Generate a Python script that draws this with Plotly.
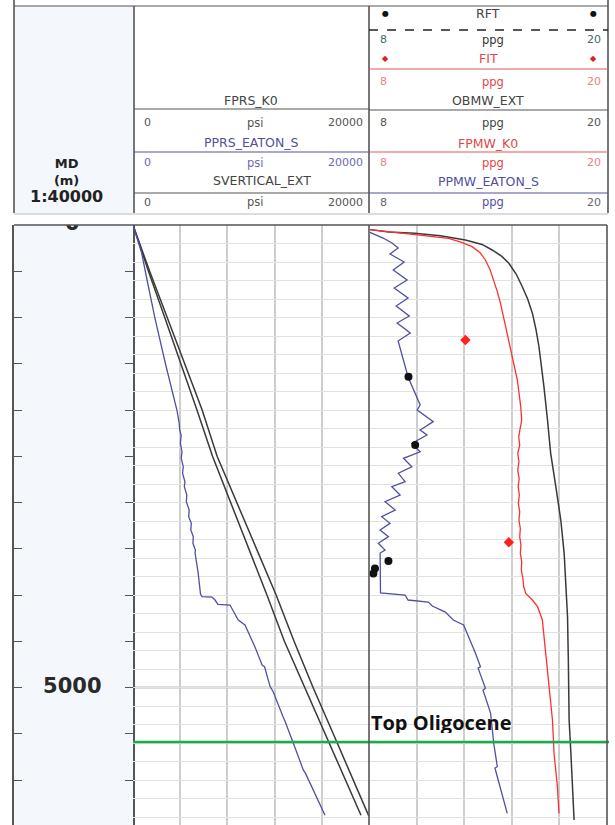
import plotly.graph_objects as go

# ---------------------------------------------------------------------------
# Well pressure data versus measured depth (m)
# ---------------------------------------------------------------------------

# Pressure track (psi)
svertical_depth = [0, 500, 1000, 1500, 2000, 2500, 3000, 3500, 4000, 4500, 5000, 5500, 6000, 6390]
svertical_psi = [0, 1410, 2900, 4380, 5860, 7130, 8800, 10460, 12130, 13650, 15260, 16970, 18690, 19990]

fprs_depth = [0, 500, 1000, 1500, 2000, 2500, 3000, 3500, 4000, 4500, 5000, 5500, 6000, 6380]
fprs_psi = [0, 1310, 2690, 4070, 5420, 6740, 8280, 9810, 11350, 12830, 14550, 16280, 18010, 19320]

pprs_depth = [0, 150, 300, 600, 1000, 1500, 2000, 2130, 2216, 2270, 2360, 2451, 2522, 2613,
              2684, 2775, 2829, 2919, 2991, 3081, 3153, 3225, 3297, 3369, 3441, 3514, 3546,
              3760, 3990, 4018, 4022, 4054, 4100, 4108, 4184, 4270, 4324, 4550, 4760, 4775,
              4990, 5045, 5310, 5370, 5600, 5890, 5928, 6380]
pprs_psi = [0, 380, 730, 1200, 1850, 2750, 3720, 3900, 3960, 4080, 4020, 4150, 4090, 4260,
            4200, 4400, 4350, 4560, 4520, 4760, 4720, 4940, 4900, 5110, 5080, 5290, 5260,
            5520, 5720, 5850, 6700, 6950, 7200, 8220, 8520, 8920, 9490, 10300, 10950, 11150,
            11620, 11880, 12700, 12900, 13580, 14430, 14620, 16270]

# Mud-weight track (ppg)
obmw_depth = [50, 75, 90, 115, 162, 210, 270, 340, 414, 530, 667, 800, 955, 1130, 1316,
              1530, 1748, 2108, 2468, 2829, 3189, 3549, 3910, 4234, 4700, 5351, 5712, 6432]
obmw_ppg = [8.05, 9.0, 10.3, 11.6, 12.86, 13.7, 14.21, 14.7, 15.05, 15.42, 15.73, 16.0, 16.24,
            16.42, 16.57, 16.7, 16.82, 17.0, 17.16, 17.42, 17.67, 17.84, 17.92, 18.01, 18.05,
            18.09, 18.18, 18.34]

fpmw_depth = [50, 80, 100, 120, 144, 190, 234, 300, 378, 480, 595, 720, 847, 1099, 1387,
              1676, 1964, 2108, 2200, 2290, 2380, 2468, 2560, 2650, 2740, 2829, 2920, 3010,
              3100, 3189, 3280, 3370, 3460, 3549, 3640, 3730, 3820, 3910, 3982, 4054, 4126,
              4270, 4630, 4991, 5351, 5712, 6072, 6360]
fpmw_ppg = [8.05, 9.3, 10.3, 11.2, 12.02, 12.7, 13.2, 13.6, 13.87, 14.1, 14.29, 14.47, 14.63,
            14.89, 15.22, 15.48, 15.65, 15.7, 15.62, 15.55, 15.6, 15.5, 15.56, 15.5, 15.57,
            15.52, 15.58, 15.53, 15.6, 15.56, 15.63, 15.6, 15.66, 15.63, 15.7, 15.68, 15.76,
            15.8, 15.9, 16.24, 16.5, 16.74, 16.91, 17.08, 17.25, 17.33, 17.5, 17.58]

ppmw_depth = [80, 141, 195, 249, 314, 400, 486, 595, 681, 789, 876, 984, 1059, 1168, 1254,
              1643, 1946, 2000, 2126, 2216, 2270, 2360, 2451, 2522, 2613, 2684, 2775, 2829,
              2919, 2991, 3081, 3153, 3225, 3297, 3369, 3441, 3514, 3546, 3978, 4000, 4054,
              4076, 4119, 4184, 4270, 4324, 4630, 4775, 4790, 5009, 5030, 5276, 5603, 5856,
              5870, 6360]
ppmw_ppg = [8.05, 8.71, 9.16, 9.47, 9.06, 9.77, 9.22, 9.92, 9.27, 9.97, 9.37, 10.03, 9.42,
            10.08, 9.47, 9.97, 10.58, 10.43, 11.24, 10.58, 10.92, 10.16, 10.58, 9.74, 10.16,
            9.48, 9.82, 9.15, 9.57, 8.81, 9.32, 8.64, 9.06, 8.56, 8.98, 8.47, 8.81, 8.56,
            8.58, 9.82, 9.97, 10.99, 11.19, 11.85, 12.25, 12.77, 13.37, 13.62, 13.5, 13.87,
            13.75, 14.13, 14.29, 14.47, 14.35, 14.97]

# Measurements
rft_depth = [1640, 2378, 3632, 3712, 3766]
rft_ppg = [9.99, 10.33, 8.98, 8.30, 8.22]

fit_depth = [1243, 3430]
fit_ppg = [12.86, 15.05]

# Formation tops
top_names = ["Top Oligocene"]
top_depths = [5589]

# Depth axis labelling
depth_label_values = [0, 5000]
depth_tick_step = 500
depth_grid_step = 200
depth_max = 6486

# ---------------------------------------------------------------------------
# Page geometry helpers (pixel -> paper)
# ---------------------------------------------------------------------------
W, H = 615, 825


def px(x):
    return x / W


def py(y):
    return 1 - y / H


X_LEFT, X_DEPTH, X_PRES, X_RIGHT = 14, 133, 369, 607
Y_TRACK_TOP = 225

C_BLACK = "#3a3a3a"
C_BLUE = "#5050a2"
C_RED = "#ff2f2f"
C_GRID_V = "#cdcdcd"
C_GRID_H = "#e2e2e2"
C_BORDER = "#555555"
C_DEPTH_BG = "#f4f7fc"
FONT = "DejaVu Sans"

fig = go.Figure()

# Depth labels inside the depth track (clipped by the track frame)
fig.add_trace(go.Scatter(
    x=[0.49] * len(depth_label_values), y=depth_label_values,
    text=[f"<b>{v}</b>" for v in depth_label_values],
    mode="text", textposition="middle center", cliponaxis=True,
    textfont=dict(family=FONT, size=21, color="#2a2a2a"),
    xaxis="x", yaxis="y", hoverinfo="skip", showlegend=False))

# Pressure track
fig.add_trace(go.Scatter(x=fprs_psi, y=fprs_depth, mode="lines", name="FPRS_K0",
                         line=dict(color=C_BLACK, width=1.5), xaxis="x2", yaxis="y2"))
fig.add_trace(go.Scatter(x=svertical_psi, y=svertical_depth, mode="lines", name="SVERTICAL_EXT",
                         line=dict(color=C_BLACK, width=1.5), xaxis="x2", yaxis="y2"))
fig.add_trace(go.Scatter(x=pprs_psi, y=pprs_depth, mode="lines", name="PPRS_EATON_S",
                         line=dict(color=C_BLUE, width=1.3), xaxis="x2", yaxis="y2"))

# Mud-weight track
fig.add_trace(go.Scatter(x=obmw_ppg, y=obmw_depth, mode="lines", name="OBMW_EXT",
                         line=dict(color=C_BLACK, width=1.5), xaxis="x3", yaxis="y3"))
fig.add_trace(go.Scatter(x=fpmw_ppg, y=fpmw_depth, mode="lines", name="FPMW_K0",
                         line=dict(color=C_RED, width=1.3), xaxis="x3", yaxis="y3"))
fig.add_trace(go.Scatter(x=ppmw_ppg, y=ppmw_depth, mode="lines", name="PPMW_EATON_S",
                         line=dict(color=C_BLUE, width=1.3), xaxis="x3", yaxis="y3"))
fig.add_trace(go.Scatter(x=rft_ppg, y=rft_depth, mode="markers", name="RFT",
                         marker=dict(color="#111111", size=8, symbol="circle"),
                         xaxis="x3", yaxis="y3"))
fig.add_trace(go.Scatter(x=fit_ppg, y=fit_depth, mode="markers", name="FIT",
                         marker=dict(color="#ff2020", size=8, symbol="diamond"),
                         xaxis="x3", yaxis="y3"))

# Formation top label, clipped at its baseline
fig.add_trace(go.Scatter(
    x=[0.008], y=[0.24], text=top_names, mode="text", textposition="middle right",
    cliponaxis=True, textfont=dict(family="Open Sans", size=20, color="#111111", weight="bold"),
    xaxis="x4", yaxis="y4", hoverinfo="skip", showlegend=False))

track_y_domain = [0, py(Y_TRACK_TOP)]

fig.update_layout(
    width=W, height=H, margin=dict(l=0, r=0, t=0, b=0),
    paper_bgcolor="white", plot_bgcolor="rgba(0,0,0,0)", showlegend=False,
    xaxis=dict(domain=[px(X_LEFT), px(X_DEPTH)], range=[0, 1], visible=False, fixedrange=True),
    yaxis=dict(domain=track_y_domain, range=[depth_max, 0], anchor="x",
               showline=True, linecolor=C_BORDER, linewidth=1.5, mirror="ticks",
               ticks="inside", ticklen=8, tickwidth=1.3, tickcolor=C_BORDER,
               tickvals=list(range(0, depth_max, depth_tick_step)), showticklabels=False,
               showgrid=False, zeroline=False),
    xaxis2=dict(domain=[px(X_DEPTH), px(X_PRES)], range=[0, 20000], anchor="y2",
                tickvals=[4000, 8000, 12000, 16000], showticklabels=False, ticks="",
                showgrid=True, gridcolor=C_GRID_V, gridwidth=2, zeroline=False, showline=False),
    yaxis2=dict(domain=track_y_domain, matches="y", anchor="x2", showticklabels=False, ticks="",
                tick0=0, dtick=depth_grid_step, showgrid=True, gridcolor=C_GRID_H, gridwidth=1,
                zeroline=False, showline=False),
    xaxis3=dict(domain=[px(X_PRES), px(X_RIGHT)], range=[8, 20], anchor="y3",
                tickvals=[10.4, 12.8, 15.2, 17.6], showticklabels=False, ticks="",
                showgrid=True, gridcolor=C_GRID_V, gridwidth=2, zeroline=False, showline=False),
    yaxis3=dict(domain=track_y_domain, matches="y", anchor="x3", showticklabels=False, ticks="",
                tick0=0, dtick=depth_grid_step, showgrid=True, gridcolor=C_GRID_H, gridwidth=1,
                zeroline=False, showline=False),
    xaxis4=dict(domain=[px(X_PRES), px(X_RIGHT)], range=[0, 1], anchor="y4", visible=False),
    yaxis4=dict(domain=[py(733), py(700)], range=[0, 1], anchor="x4", visible=False),
)

shapes = []


def pline(x0, y0, x1, y1, color=C_BORDER, width=1.2, dash="solid", layer="above"):
    shapes.append(dict(type="line", xref="paper", yref="paper",
                       x0=px(x0), y0=py(y0), x1=px(x1), y1=py(y1),
                       line=dict(color=color, width=width, dash=dash), layer=layer))


# depth track background
shapes.append(dict(type="rect", xref="paper", yref="paper", x0=px(X_LEFT), x1=px(X_DEPTH),
                   y0=0, y1=py(Y_TRACK_TOP), fillcolor=C_DEPTH_BG, line=dict(width=0),
                   layer="below"))
# header depth column background
shapes.append(dict(type="rect", xref="paper", yref="paper", x0=px(X_LEFT), x1=px(134),
                   y0=py(213), y1=py(6), fillcolor=C_DEPTH_BG, line=dict(width=0),
                   layer="below"))

# darker grid line at labelled depths
for d in depth_label_values[1:]:
    shapes.append(dict(type="line", xref="paper", yref="y2", x0=px(X_DEPTH), x1=px(X_RIGHT),
                       y0=d, y1=d, line=dict(color="#7a7a7a", width=1.4), layer="between"))

# formation tops
for d in top_depths:
    shapes.append(dict(type="line", xref="paper", yref="y2", x0=px(X_DEPTH), x1=px(X_RIGHT + 2),
                       y0=d, y1=d, line=dict(color="#19ad47", width=2.5), layer="above"))

# track frame
pline(X_LEFT, Y_TRACK_TOP, X_RIGHT, Y_TRACK_TOP, width=1.6)
pline(X_PRES, Y_TRACK_TOP, X_PRES, H, width=1.6)
pline(X_RIGHT, Y_TRACK_TOP, X_RIGHT, H, width=1.6)

# header frame
pline(X_LEFT, 0, X_LEFT, 213, width=1.6)
pline(X_LEFT, 6, X_RIGHT + 1, 6, width=1.2)
pline(134, 6, 134, 213, width=1.6)
pline(X_PRES, 6, X_PRES, 213, width=1.6)
pline(X_RIGHT + 1, 0, X_RIGHT + 1, 213, width=1.6)
pline(X_LEFT, 214, X_RIGHT + 1, 214, color="#d0d0d0", width=1.5)

# header curve separators - pressure column
pline(134, 109, X_PRES, 109, color="#555555", width=1.2)
pline(134, 152, X_PRES, 152, color=C_BLUE, width=1.2)
pline(134, 193, X_PRES, 193, color="#555555", width=1.2)
# header curve separators - mud weight column
pline(X_PRES, 30, X_RIGHT + 1, 30, color="#222222", width=1.5, dash="dash")
pline(X_PRES, 69, X_RIGHT + 1, 69, color="#e05a5a", width=1.2)
pline(X_PRES, 110, X_RIGHT + 1, 110, color="#555555", width=1.2)
pline(X_PRES, 152, X_RIGHT + 1, 152, color="#e05a5a", width=1.2)
pline(X_PRES, 193, X_RIGHT + 1, 193, color=C_BLUE, width=1.2)

fig.update_layout(shapes=shapes)

annotations = []


def label(text, x, y, color="#3c3c3c", size=12.5, anchor="center", bold=False):
    annotations.append(dict(text=f"<b>{text}</b>" if bold else text, xref="paper", yref="paper",
                            x=px(x), y=py(y), xanchor=anchor, yanchor="middle", showarrow=False,
                            font=dict(family=FONT, size=size, color=color)))


def scale_row(y, left, right, unit, x0, x1, c_ends, c_unit):
    label(left, x0, y, c_ends, size=11, anchor="left")
    label(unit, (x0 + x1) / 2 + 2, y, c_unit, size=11.5)
    label(right, x1, y, c_ends, size=11, anchor="right")


# depth column header (one stacked block)
annotations.append(dict(
    text="<b>MD<br>(m)<br><span style='font-size:16px'>1:40000</span></b>",
    xref="paper", yref="paper", x=px(66), y=py(181), xanchor="center", yanchor="middle",
    align="center", showarrow=False,
    font=dict(family=FONT, size=13, color="#222222")))

# pressure column header
PX0, PX1 = 142, 365
label("FPRS_K0", 251, 100, "#444444")
scale_row(123, "0", "20000", "psi", PX0, PX1, "#555555", "#555555")
label("PPRS_EATON_S", 251, 142, C_BLUE)
scale_row(163, "0", "20000", "psi", PX0, PX1, "#6a6ab0", "#6a6ab0")
label("SVERTICAL_EXT", 262, 181, "#444444")
scale_row(202, "0", "20000", "psi", PX0, PX1, "#555555", "#555555")

# mud weight column header
MX0, MX1 = 378, 603
label("RFT", 488, 14, "#444444")
label("●", 385, 14, "#111111", size=8)
label("●", 593, 14, "#111111", size=8)
scale_row(40, "8", "20", "ppg", MX0, MX1, "#3f6a66", "#333333")
label("FIT", 488, 58, "#e04848")
label("◆", 385, 58, "#e02020", size=8)
label("◆", 593, 58, "#e02020", size=8)
scale_row(82, "8", "20", "ppg", MX0, MX1, "#f08080", "#e04848")
label("OBMW_EXT", 488, 100, "#444444")
scale_row(123, "8", "20", "ppg", MX0, MX1, "#555555", "#444444")
label("FPMW_K0", 488, 143, "#e04848")
scale_row(163, "8", "20", "ppg", MX0, MX1, "#f08080", "#e04848")
label("PPMW_EATON_S", 488, 182, C_BLUE)
scale_row(202, "8", "20", "ppg", MX0, MX1, "#666666", C_BLUE)

fig.update_layout(annotations=annotations)

fig.write_html("out.html", config={"displayModeBar": False})
